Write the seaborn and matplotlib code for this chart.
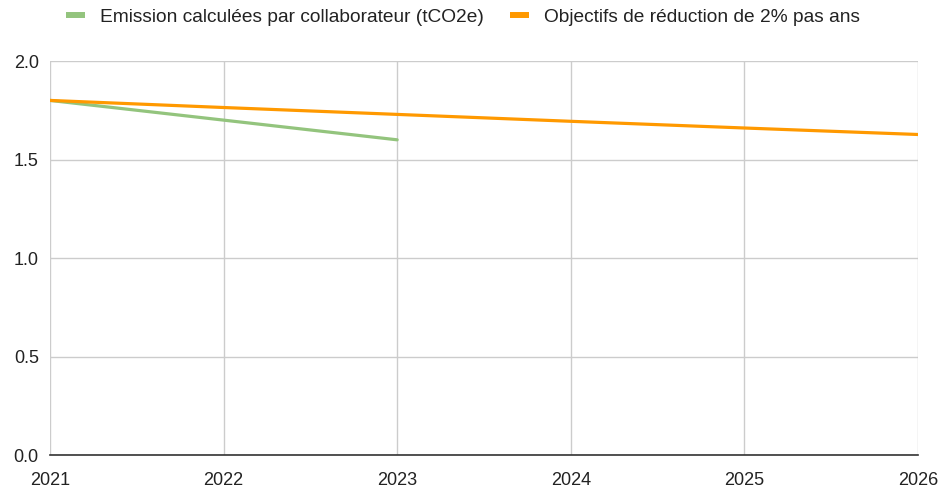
import matplotlib
matplotlib.use("Agg")
import matplotlib.pyplot as plt
import pandas as pd
import seaborn as sns

years = [2021, 2022, 2023, 2024, 2025, 2026]
emission_years = [2021, 2022, 2023]
emission_values = [1.8, 1.7, 1.6]
target_values = [1.8, 1.764, 1.729, 1.694, 1.660, 1.627]

emission_label = "Emission calculées par collaborateur (tCO2e)"
target_label = "Objectifs de réduction de 2% pas ans"

GREEN = "#93c47d"
ORANGE = "#ff9900"


def main() -> None:
    sns.set_theme(style="white")
    plt.rcParams["font.family"] = ["Liberation Sans", "DejaVu Sans"]

    df = pd.concat(
        [
            pd.DataFrame({"year": emission_years, "value": emission_values, "series": emission_label}),
            pd.DataFrame({"year": years, "value": target_values, "series": target_label}),
        ]
    )

    fig = plt.figure(figsize=(9.39, 4.87), dpi=100)
    ax = fig.add_axes([0.0532, 0.0657, 0.9244, 0.809])

    sns.lineplot(
        data=df,
        x="year",
        y="value",
        hue="series",
        palette={emission_label: GREEN, target_label: ORANGE},
        linewidth=2.3,
        ax=ax,
        legend=False,
    )

    ax.set_xlim(2021, 2026)
    ax.set_ylim(0, 2.0)
    ax.set_xticks(years)
    ax.set_xticklabels([str(y) for y in years])
    ax.set_yticks([0.0, 0.5, 1.0, 1.5, 2.0])
    ax.set_yticklabels(["0.0", "0.5", "1.0", "1.5", "2.0"])
    ax.grid(True, color="#cccccc", linewidth=1)
    ax.set_axisbelow(True)
    for side in ["top", "right", "left"]:
        ax.spines[side].set_visible(False)
    ax.spines["bottom"].set_color("#333333")
    ax.spines["bottom"].set_linewidth(1.2)
    ax.tick_params(axis="both", length=0, labelsize=13, colors="#222222")
    ax.tick_params(axis="x", pad=12)
    ax.tick_params(axis="y", pad=8)
    ax.set_xlabel("")
    ax.set_ylabel("")

    handles = [
        plt.Line2D([], [], color=GREEN, linewidth=4.3, solid_capstyle="butt"),
        plt.Line2D([], [], color=ORANGE, linewidth=4.3, solid_capstyle="butt"),
    ]
    fig.legend(
        handles,
        [emission_label, target_label],
        loc="center",
        bbox_to_anchor=(0.493, 0.965),
        ncol=2,
        frameon=False,
        fontsize=13.8,
        handlelength=1.0,
        handletextpad=0.78,
        columnspacing=1.36,
        labelcolor="#222222",
    )

    fig.savefig("out.png", dpi=100)
    plt.close(fig)


if __name__ == "__main__":
    main()
